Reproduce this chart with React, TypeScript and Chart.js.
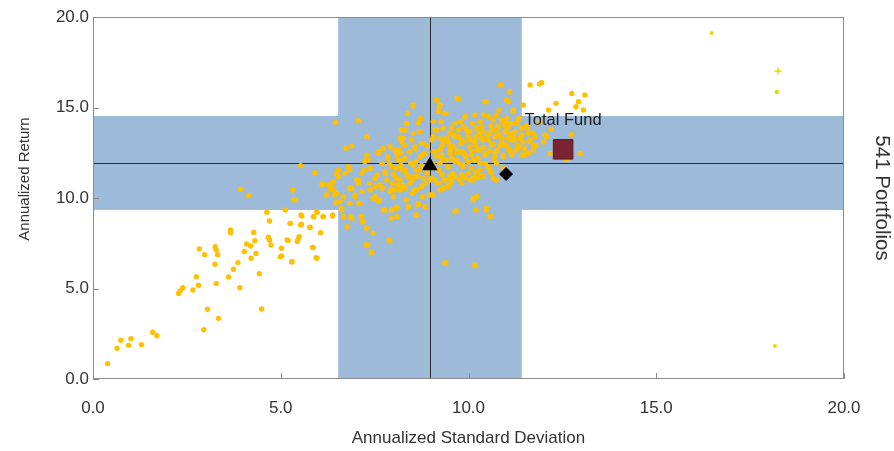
import React, { useEffect, useRef } from "react";
import { Chart, registerables } from "chart.js";

Chart.register(...registerables);

// ---------- data (annualized standard deviation, annualized return) ----------
const axisTicks = [0, 5, 10, 15, 20];

const sdBand = [6.53, 11.42];
const returnBand = [9.34, 14.53];
const medianSD = 8.97;
const medianReturn = 11.93;

const indexTriangle: [number, number] = [8.97, 11.78];
const indexDiamond: [number, number] = [11.0, 11.33];
const totalFund: [number, number] = [12.52, 12.69];
const totalFundLabel = "Total Fund";
const universeLabel = "541 Portfolios";
const xTitle = "Annualized Standard Deviation";
const yTitle = "Annualized Return";

const tailPeers: [number, number][] = [
  [0.39, 0.85], [0.64, 1.7], [0.74, 2.14], [0.95, 1.86], [1.01, 2.23], [1.29, 1.9], [1.59, 2.58], [1.7, 2.39],
  [2.28, 4.73], [2.32, 4.86], [2.39, 5.04], [2.66, 4.92], [2.75, 5.65], [2.81, 5.18], [2.83, 7.18], [2.97, 6.87],
  [2.95, 2.72], [3.05, 3.85], [3.34, 3.35], [3.25, 7.31], [3.28, 7.13], [3.32, 6.87], [3.25, 6.34], [3.28, 5.27],
  [3.61, 5.64], [3.66, 8.23], [3.67, 8.08], [3.74, 6.06], [3.86, 6.43], [3.91, 5.04], [4.03, 7.05], [4.09, 7.46],
  [4.2, 7.35], [4.21, 6.67], [4.31, 7.64], [4.28, 8.1], [4.34, 6.94], [4.43, 5.82], [4.49, 3.87], [4.63, 9.21],
  [4.7, 8.73], [4.67, 7.83], [4.7, 7.68], [4.74, 7.4], [4.99, 6.76], [5.02, 7.22], [5.12, 9.34], [5.2, 7.66],
  [5.25, 8.6], [5.3, 6.48], [5.45, 7.68], [5.49, 7.86], [5.54, 9.06], [5.55, 8.55], [5.77, 8.36], [5.86, 7.27],
  [5.88, 8.97], [5.96, 6.67], [5.97, 9.21], [6.06, 8.08], [6.13, 8.97], [6.38, 9.06], [3.93, 10.48], [4.14, 10.13],
  [5.32, 10.44], [5.38, 9.89], [6.11, 10.74], [6.27, 10.74], [6.33, 10.48], [6.24, 10.17], [6.44, 10.17],
  [6.47, 9.74], [6.4, 10.9],
];

const westPeers: [number, number][] = [
  [5.53, 11.79], [6.46, 14.18], [7.07, 14.27], [5.35, 9.9], [5.91, 11.4], [6.1, 10.77], [6.22, 10.17], [6.36, 10.72],
  [6.38, 10.44], [6.49, 11.36], [6.58, 9.8], [6.62, 9.34], [6.67, 8.97], [6.74, 12.75], [6.89, 12.87], [6.84, 11.55],
  [6.83, 10.54], [6.77, 8.42], [6.86, 8.97], [6.98, 10.07], [7.02, 10.99], [7.11, 9.7], [7.14, 8.97], [7.18, 8.69],
  [7.22, 11.55], [7.29, 13.39], [7.3, 12.38], [7.33, 12.1], [7.36, 10.81], [7.38, 10.44], [7.27, 7.4], [7.42, 6.98],
  [7.46, 8.05], [6.09, 10.75], [6.31, 10.62], [5.56, 9.0], [5.87, 8.97], [5.96, 9.24], [6.13, 8.97], [6.38, 9.0],
  [5.25, 8.6], [5.53, 8.51], [5.78, 8.38], [5.17, 7.68], [5.44, 7.59], [5.02, 6.8], [5.85, 7.27], [5.29, 6.48],
  [5.94, 6.7], [6.53, 11.55], [6.71, 11.36], [6.8, 11.73], [6.53, 11.18], [6.49, 10.26], [6.67, 10.07], [6.89, 10.54],
  [6.98, 10.17], [6.84, 9.7], [6.62, 9.43], [6.89, 8.88], [7.16, 8.97], [7.2, 8.69], [7.29, 8.33], [7.32, 7.4],
  [7.42, 7.03], [7.91, 7.64], [7.07, 9.7],
];

const corePeersA: [number, number][] = [
  [7.51, 10.07], [7.57, 11.27], [7.6, 12.56], [7.63, 9.89], [7.71, 10.54], [7.73, 9.34], [7.78, 11.46], [7.82, 10.99],
  [7.85, 12.19], [7.89, 7.68], [7.91, 12.83], [7.95, 9.34], [7.98, 10.81], [8.0, 10.07], [8.07, 11.64], [8.09, 9.49],
  [8.1, 8.97], [8.16, 12.65], [8.18, 10.99], [8.19, 10.44], [8.22, 13.76], [8.24, 12.1], [8.26, 13.3], [8.31, 11.55],
  [8.34, 9.89], [8.35, 14.12], [8.37, 14.67], [8.4, 9.52], [8.42, 12.56], [8.44, 10.81], [8.46, 11.92], [8.49, 13.2],
  [8.51, 10.26], [8.53, 15.14], [8.55, 11.18], [8.58, 12.83], [8.6, 9.06], [8.62, 11.55], [8.66, 9.7], [8.69, 13.66],
  [8.71, 12.28], [8.73, 14.4], [8.75, 10.62], [8.78, 10.07], [8.8, 13.02], [8.81, 11.09], [8.84, 9.52], [8.97, 10.99],
  [9.02, 10.17], [9.06, 13.39], [9.11, 12.56], [9.13, 15.41], [9.15, 13.76], [9.2, 11.55], [9.22, 15.04], [9.24, 10.44],
  [9.26, 14.22], [9.29, 12.19], [9.31, 12.93], [9.35, 10.99], [9.37, 6.39], [9.4, 14.67], [9.42, 13.3], [9.45, 11.73],
  [9.47, 10.72], [9.51, 12.46], [9.55, 13.85], [9.58, 11.36], [9.6, 12.83], [9.64, 9.24], [9.67, 12.1], [9.7, 15.51],
  [9.73, 13.39], [9.76, 10.99], [9.79, 14.22], [9.82, 12.56], [9.85, 11.73], [9.88, 13.11], [9.91, 14.49], [9.93, 12.28],
  [9.97, 13.66], [9.99, 11.36], [10.04, 12.83], [10.09, 10.99], [10.11, 14.12], [10.13, 9.98], [10.15, 12.1], [10.17, 6.3],
  [10.2, 13.39], [10.22, 10.07], [10.26, 12.65], [10.31, 11.55], [10.35, 13.94], [10.38, 13.2], [10.41, 14.59],
  [10.44, 12.38], [10.47, 15.32], [10.48, 9.43],
];

const corePeersB: [number, number][] = [
  [8.53, 15.08], [8.38, 14.68], [8.71, 14.35], [8.66, 14.16], [8.31, 13.76], [8.53, 13.57], [8.71, 13.66], [8.18, 13.3],
  [8.22, 13.11], [7.73, 12.74], [7.6, 12.47], [7.85, 12.28], [7.29, 12.19], [7.24, 12.01], [7.38, 11.64], [8.04, 12.65],
  [8.18, 12.47], [8.13, 12.1], [8.31, 12.19], [8.44, 12.56], [8.58, 12.74], [8.75, 13.02], [8.84, 12.47], [7.95, 11.73],
  [8.22, 11.55], [8.53, 11.82], [8.71, 11.55], [8.4, 11.18], [8.09, 11.09], [7.78, 11.36], [7.51, 11.09], [7.16, 11.36],
  [7.07, 10.99], [7.07, 10.81], [7.51, 10.62], [7.64, 10.72], [7.91, 10.35], [8.04, 10.44], [8.13, 10.72], [8.31, 10.54],
  [8.44, 10.81], [8.62, 10.44], [8.75, 10.62], [8.97, 10.17], [7.16, 10.35], [7.46, 9.98], [7.6, 9.8], [7.78, 9.34],
  [8.09, 9.43], [7.95, 8.88], [8.4, 9.52], [8.66, 9.61], [8.62, 9.06],
];

const corePeersC: [number, number][] = [
  [10.84, 16.24], [9.73, 15.45], [10.44, 15.32], [11.02, 15.41], [9.15, 15.41], [9.24, 15.14], [9.2, 14.77], [9.37, 14.67],
  [9.06, 14.22], [9.64, 14.12], [9.91, 14.49], [10.17, 14.59], [10.31, 14.22], [10.53, 14.49], [10.75, 14.59], [10.88, 14.31],
  [11.02, 14.12], [9.11, 13.76], [9.33, 13.85], [9.51, 13.57], [9.73, 13.76], [9.86, 13.94], [10.04, 13.66], [10.22, 13.85],
  [10.39, 13.66], [10.62, 13.76], [10.79, 13.94], [10.97, 13.66], [9.02, 13.2], [9.24, 13.3], [9.46, 13.11], [9.64, 13.39],
  [9.82, 13.2], [9.99, 13.39], [10.17, 13.11], [10.35, 13.3], [10.53, 13.2], [10.71, 13.39], [10.88, 13.11], [11.06, 13.3],
  [9.06, 12.56], [9.29, 12.38], [9.51, 12.65], [9.69, 12.47], [9.86, 12.56], [10.08, 12.38], [10.31, 12.65], [10.48, 12.47],
  [10.71, 12.56], [10.93, 12.38], [9.24, 11.92], [9.46, 11.73], [9.64, 12.01], [9.86, 11.82], [10.08, 11.64], [10.31, 11.92],
  [10.53, 11.73], [10.75, 11.92], [10.93, 11.64], [9.51, 11.18], [9.82, 11.27], [10.13, 11.09], [10.39, 11.22], [10.66, 11.09],
  [9.02, 11.09], [9.2, 10.81], [9.37, 10.99], [9.51, 11.09], [9.64, 11.18], [9.82, 10.81], [10.04, 10.99], [10.17, 11.09],
  [10.31, 11.18], [9.06, 10.17], [9.33, 10.54], [9.46, 10.62], [10.13, 9.89], [10.22, 10.07], [9.67, 9.28], [10.48, 9.34],
  [10.6, 9.0], [9.4, 6.43], [10.17, 6.26],
];

const corePeersD: [number, number][] = [
  [8.6, 12.0], [8.8, 12.4], [8.9, 12.9], [9.05, 11.9], [9.15, 12.3], [9.25, 12.7], [9.35, 13.1], [9.4, 12.1],
  [9.5, 12.9], [9.55, 12.2], [9.6, 13.5], [9.7, 12.6], [9.75, 11.9], [9.8, 13.0], [9.9, 12.4], [9.95, 13.8],
  [10.0, 12.0], [10.05, 13.2], [10.1, 12.6], [10.2, 12.9], [10.25, 12.2], [10.3, 13.6], [10.4, 12.8], [10.45, 11.9],
  [10.5, 13.4], [10.55, 12.6], [10.6, 14.0], [10.65, 13.0], [10.7, 12.3], [10.8, 13.5], [10.85, 12.9], [10.9, 14.2],
  [10.95, 13.0], [11.05, 13.9], [11.1, 12.6], [11.2, 13.4], [11.3, 12.9], [11.35, 14.4], [11.45, 13.1], [11.55, 14.0],
  [11.7, 13.6], [11.8, 12.9], [11.9, 14.2], [12.0, 13.1], [12.2, 13.8], [8.2, 11.8], [8.35, 11.3], [8.5, 11.0],
  [8.65, 11.2], [8.75, 11.8], [8.9, 11.4], [8.0, 11.3], [7.9, 11.9], [8.1, 12.4], [8.3, 12.9], [7.7, 11.9],
  [7.95, 10.5], [8.25, 10.7], [8.55, 10.4], [8.85, 10.8], [9.1, 11.0], [9.3, 11.3], [9.55, 10.9], [9.9, 11.1],
  [10.2, 11.4], [10.6, 11.4],
];

const eastPeers: [number, number][] = [
  [10.53, 11.73], [10.55, 13.57], [10.57, 8.97], [10.62, 12.93], [10.66, 14.31], [10.68, 12.1], [10.73, 13.76], [10.77, 12.65],
  [10.82, 14.86], [10.86, 16.24], [10.89, 13.3], [10.93, 12.28], [10.97, 14.03], [11.02, 15.41], [11.03, 12.83], [11.09, 15.87],
  [11.1, 13.57], [11.15, 12.46], [11.19, 14.77], [11.24, 13.2], [11.28, 14.12], [11.35, 12.83], [11.42, 13.48], [11.46, 15.14],
  [11.5, 12.38], [11.57, 13.85], [11.62, 13.11], [11.64, 16.24], [11.73, 12.65], [11.77, 13.39], [11.89, 16.3], [11.95, 16.37],
  [12.08, 13.39], [12.17, 12.46], [12.33, 15.23], [12.75, 15.78], [12.93, 15.32], [13.1, 15.69], [12.86, 15.04], [12.75, 13.5],
  [12.97, 12.46], [13.06, 14.86], [10.57, 11.55], [10.75, 10.99], [10.2, 9.34], [11.1, 15.87], [11.06, 15.32], [11.19, 14.86],
  [11.02, 14.4], [11.15, 14.12], [11.33, 14.31], [11.02, 13.85], [11.24, 13.66], [11.42, 13.85], [11.6, 13.57], [11.15, 13.2],
  [11.37, 13.3], [11.64, 13.2], [11.06, 12.74], [11.28, 12.65], [11.5, 12.74], [11.73, 12.93], [11.15, 12.38], [11.42, 12.38],
  [11.6, 12.47], [12.04, 13.48], [12.13, 14.86], [12.61, 12.13],
];

const farPeers: [number, number][] = [
  [16.48, 19.12], [18.24, 17.02], [18.21, 15.86], [18.16, 1.82],
];

// ---------- styling ----------
const FONT = "'Liberation Sans', Arial, Helvetica, sans-serif";
const TEXT = "#333333";
const BAND = "rgb(157,186,217)";
const DOT = "rgb(254,192,0)";

const toPts = (arr: [number, number][]) => arr.map(([x, y]) => ({ x, y }));

const decorPlugin = {
  id: "decor",
  beforeDatasetsDraw(chart: any) {
    const { ctx, chartArea: a, scales } = chart;
    const x = scales.x, y = scales.y;
    ctx.save();
    ctx.fillStyle = BAND;
    const bx1 = x.getPixelForValue(sdBand[0]);
    const bx2 = x.getPixelForValue(sdBand[1]);
    ctx.fillRect(bx1, a.top, bx2 - bx1, a.bottom - a.top);
    const by1 = y.getPixelForValue(returnBand[1]);
    const by2 = y.getPixelForValue(returnBand[0]);
    ctx.fillRect(a.left, by1, a.right - a.left, by2 - by1);

    ctx.lineWidth = 1;
    ctx.strokeStyle = "#8a8a8a";
    ctx.beginPath();
    for (const v of axisTicks) {
      const px = Math.round(x.getPixelForValue(v)) + 0.5;
      ctx.moveTo(px, a.bottom);
      ctx.lineTo(px, a.bottom - 6);
      const py = Math.round(y.getPixelForValue(v)) + 0.5;
      ctx.moveTo(a.left, py);
      ctx.lineTo(a.left + 6, py);
    }
    ctx.stroke();

    ctx.strokeStyle = "#2a2a2a";
    ctx.beginPath();
    const mx = Math.round(x.getPixelForValue(medianSD)) + 0.5;
    ctx.moveTo(mx, a.top);
    ctx.lineTo(mx, a.bottom);
    const my = Math.round(y.getPixelForValue(medianReturn)) + 0.5;
    ctx.moveTo(a.left, my);
    ctx.lineTo(a.right, my);
    ctx.stroke();

    ctx.strokeStyle = "#8c8c8c";
    ctx.strokeRect(Math.round(a.left) + 0.5, Math.round(a.top) + 0.5, Math.round(a.right - a.left) - 1, Math.round(a.bottom - a.top) - 1);
    ctx.restore();
  },
  afterDraw(chart: any) {
    const { ctx, chartArea: a, scales } = chart;
    ctx.save();
    ctx.fillStyle = "#1e1e1e";
    ctx.font = `16.5px ${FONT}`;
    ctx.textAlign = "center";
    ctx.textBaseline = "middle";
    const fx = scales.x.getPixelForValue(totalFund[0]);
    const fy = scales.y.getPixelForValue(totalFund[1]);
    ctx.fillText(totalFundLabel, fx, fy - 29);

    ctx.fillStyle = TEXT;
    ctx.font = `17px ${FONT}`;
    ctx.fillText(xTitle, (a.left + a.right) / 2, 438);

    ctx.save();
    ctx.font = `15px ${FONT}`;
    ctx.translate(25, 179);
    ctx.rotate(-Math.PI / 2);
    ctx.fillText(yTitle, 0, 0);
    ctx.restore();

    ctx.save();
    ctx.font = `20.5px ${FONT}`;
    ctx.translate(882, (a.top + a.bottom) / 2);
    ctx.rotate(Math.PI / 2);
    ctx.fillText(universeLabel, 0, 0);
    ctx.restore();
    ctx.restore();
  },
};

export default function App() {
  const ref = useRef<HTMLCanvasElement>(null);

  useEffect(() => {
    document.body.style.margin = "0";
    const canvas = ref.current!;
    const peers = [
      ...toPts(tailPeers), ...toPts(westPeers), ...toPts(corePeersA),
      ...toPts(corePeersB), ...toPts(corePeersC), ...toPts(corePeersD), ...toPts(eastPeers),
    ];
    const chart = new Chart(canvas, {
      type: "scatter",
      data: {
        datasets: [
          {
            label: "Total Fund",
            data: [{ x: totalFund[0], y: totalFund[1] }],
            pointStyle: "rect",
            pointRadius: 13.8,
            backgroundColor: "#7a2433",
            borderColor: "#5c1a26",
            borderWidth: 1,
          },
          {
            label: "Index A",
            data: [{ x: indexTriangle[0], y: indexTriangle[1] }],
            pointStyle: "triangle",
            pointRadius: 9,
            backgroundColor: "#000000",
            borderColor: "#000000",
            borderWidth: 0,
          },
          {
            label: "Index B",
            data: [{ x: indexDiamond[0], y: indexDiamond[1] }],
            pointStyle: "rectRot",
            pointRadius: 7,
            backgroundColor: "#000000",
            borderColor: "#000000",
            borderWidth: 0,
          },
          {
            label: "Outliers",
            data: toPts(farPeers),
            pointStyle: ["circle", "cross", "circle", "circle"],
            pointRadius: [2, 3.5, 2.2, 2],
            backgroundColor: "#e2dc00",
            borderColor: "#e2dc00",
            borderWidth: [0, 1.5, 0, 0],
          },
          {
            label: "Peers",
            data: peers,
            pointStyle: "circle",
            pointRadius: 2.7,
            backgroundColor: DOT,
            borderWidth: 0,
          },
        ],
      },
      options: {
        animation: false,
        responsive: false,
        maintainAspectRatio: false,
        layout: { padding: { left: 0, right: 50, top: 17, bottom: 0 } },
        plugins: { legend: { display: false }, tooltip: { enabled: false } },
        events: [],
        scales: {
          x: {
            type: "linear",
            min: 0,
            max: 20,
            afterFit: (s: any) => { s.height = 72; },
            grid: { display: false, drawTicks: false },
            border: { display: false },
            ticks: {
              stepSize: 5,
              padding: 19,
              color: TEXT,
              font: { family: FONT, size: 17 },
              maxRotation: 0,
              autoSkip: false,
              callback: (v: any) => Number(v).toFixed(1),
            },
          },
          y: {
            type: "linear",
            min: 0,
            max: 20,
            afterFit: (s: any) => { s.width = 93; },
            grid: { display: false, drawTicks: false },
            border: { display: false },
            ticks: {
              stepSize: 5,
              padding: 4,
              color: TEXT,
              font: { family: FONT, size: 17 },
              autoSkip: false,
              callback: (v: any) => Number(v).toFixed(1),
            },
          },
        },
      },
      plugins: [decorPlugin],
    } as any);
    return () => chart.destroy();
  }, []);

  return (
    <div style={{ position: "absolute", left: 0, top: 0, width: 894, height: 451, background: "#ffffff" }}>
      <canvas ref={ref} width={894} height={451} style={{ display: "block", width: "894px", height: "451px" }} />
    </div>
  );
}
